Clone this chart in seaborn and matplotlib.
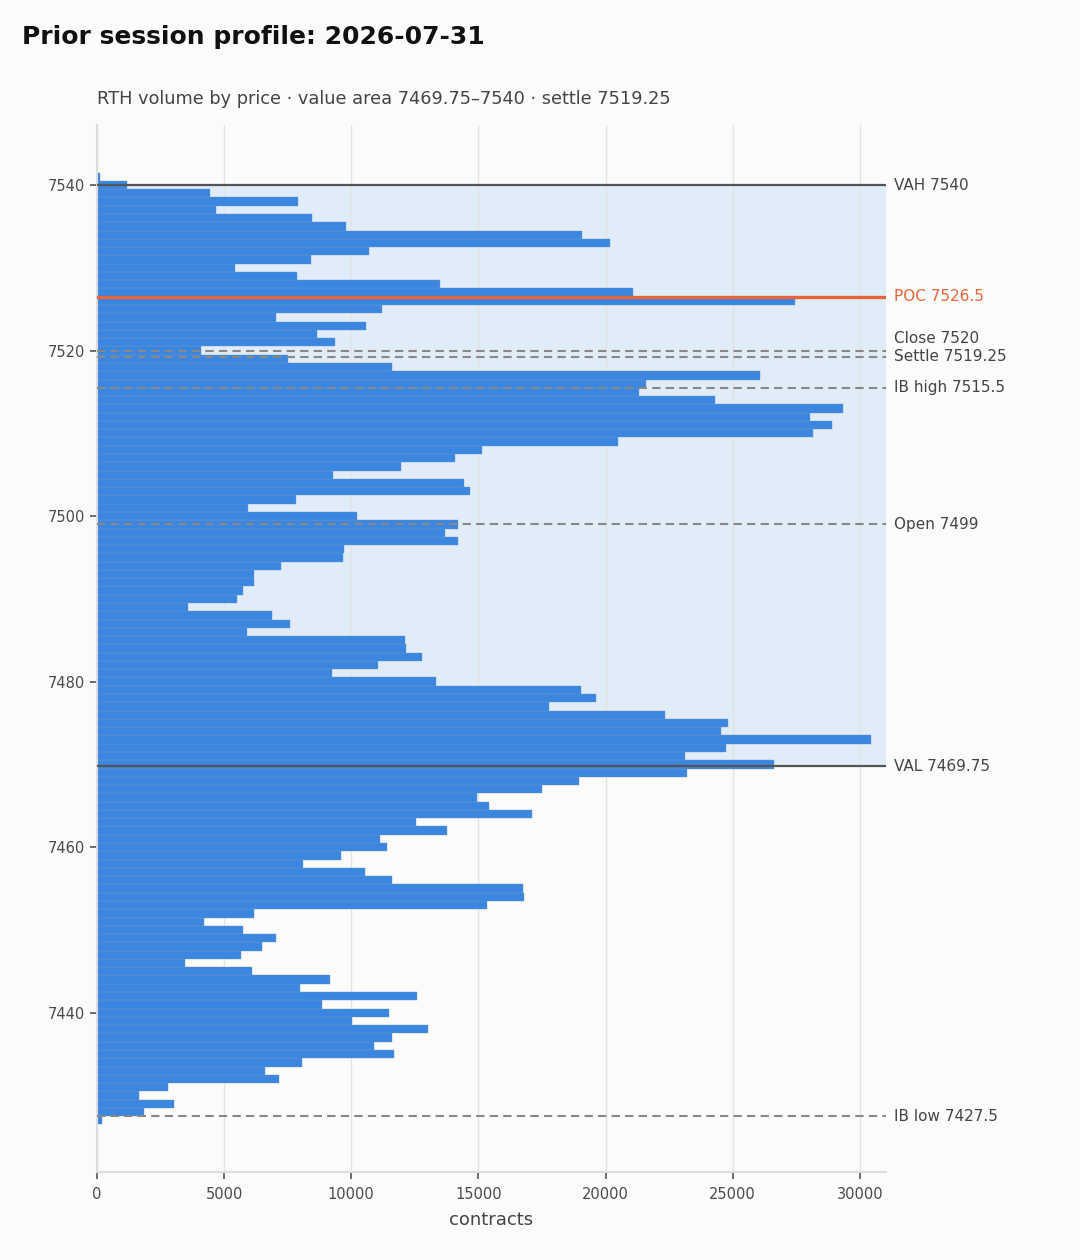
import matplotlib
matplotlib.use("Agg")
import matplotlib.pyplot as plt
import pandas as pd
import seaborn as sns

# price levels (1-point bins), top to bottom
prices = list(range(7541, 7426, -1))

# contracts traded at each price, same order as prices
volume = [
    110, 1170, 4440, 7910, 4680, 8450, 9800, 19080, 20180, 10700,
    8410, 5420, 7870, 13490, 21080, 27430, 11200, 7050, 10580, 8650,
    9360, 4080, 7510, 11610, 26080, 21570, 21330, 24320, 29320, 28050,
    28920, 28170, 20500, 15140, 14080, 11970, 9280, 14440, 14680, 7830,
    5940, 10220, 14200, 13690, 14200, 9720, 9680, 7230, 6160, 6160,
    5740, 5500, 3570, 6890, 7590, 5900, 12110, 12150, 12790, 11040,
    9240, 13330, 19040, 19640, 17790, 22350, 24820, 24520, 30420, 24720,
    23130, 26610, 23210, 18960, 17510, 14940, 15420, 17110, 12550, 13770,
    11120, 11410, 9600, 8090, 10540, 11610, 16770, 16810, 15340, 6160,
    4200, 5740, 7030, 6490, 5660, 3450, 6080, 9160, 7990, 12590,
    8860, 11490, 10020, 13010, 11610, 10900, 11690, 8050, 6610, 7150,
    2790, 1650, 3030, 1850, 180,
]

session_date = "2026-07-31"
vah = 7540
val = 7469.75
poc = 7526.5
close_px = 7520
settle = 7519.25
ib_high = 7515.5
open_px = 7499
ib_low = 7427.5

bg = "#fbfbf9"
bar_blue = "#3a86e0"
poc_orange = "#e8643a"
text_grey = "#444444"

sns.set_theme(style="whitegrid")
plt.rcParams["font.family"] = ["DejaVu Sans"]
plt.rcParams.update({
    "figure.facecolor": bg,
    "axes.facecolor": bg,
    "axes.edgecolor": "#dddddd",
    "grid.color": "#e3e3e3",
    "xtick.color": "#555555",
    "ytick.color": "#555555",
    "xtick.labelcolor": "#4a4a4a",
    "ytick.labelcolor": "#4a4a4a",
})

df = pd.DataFrame({"price": prices, "contracts": volume})

fig = plt.figure(figsize=(10.8, 12.6), dpi=100)
ax = fig.add_axes([0.0898, 0.0698, 0.7306, 0.831])

# value area shading
ax.axhspan(val, vah, color="#d9e8fa", alpha=0.75, zorder=0, lw=0)

sns.barplot(
    data=df, x="contracts", y="price", orient="h", native_scale=True,
    width=1, color=bar_blue, saturation=1, errorbar=None,
    edgecolor="#6f97c8", linewidth=0.3, ax=ax, zorder=2,
)

ax.set_axisbelow(True)
ax.grid(axis="x", color="#e3e3e3", lw=1)
ax.grid(axis="y", visible=False)
for side in ["top", "right"]:
    ax.spines[side].set_visible(False)
ax.spines["left"].set_color("#dddddd")
ax.spines["bottom"].set_color("#dddddd")
ax.spines["left"].set_linewidth(1.5)
ax.spines["bottom"].set_linewidth(1.5)

ax.set_ylim(7420.75, 7547.25)
ax.set_xlim(0, max(volume) * 1.02)
ax.set_yticks(range(7440, 7541, 20))
ax.set_xticks(range(0, 30001, 5000))
ax.tick_params(axis="both", length=5, width=1.2, labelsize=10.5, left=True, bottom=True)
ax.tick_params(axis="x", pad=6)
ax.set_xlabel("contracts", fontsize=13, color=text_grey, labelpad=6)
ax.set_ylabel("")

# reference levels
ax.axhline(vah, color="#555555", lw=1.6, zorder=4)
ax.axhline(val, color="#555555", lw=1.6, zorder=4)
ax.axhline(poc, color=poc_orange, lw=2.4, zorder=5)
for lvl in [close_px, settle, ib_high, open_px, ib_low]:
    ax.axhline(lvl, color="#888888", lw=1.5, ls=(0, (4, 2.5)), zorder=4)

labels = [
    (vah, f"VAH {vah}", text_grey, 0),
    (poc, f"POC {poc}", poc_orange, 0),
    (close_px, f"Close {close_px}", text_grey, 8.5),
    (settle, f"Settle {settle}", text_grey, 0),
    (ib_high, f"IB high {ib_high}", text_grey, 0),
    (open_px, f"Open {open_px}", text_grey, 0),
    (val, f"VAL {val}", text_grey, 0),
    (ib_low, f"IB low {ib_low}", text_grey, 0),
]
for lvl, txt, col, dy in labels:
    ax.annotate(
        txt, xy=(1, lvl), xycoords=("axes fraction", "data"),
        xytext=(6, dy), textcoords="offset points",
        ha="left", va="center", fontsize=11, color=col, annotation_clip=False,
    )

ax.set_title(
    f"RTH volume by price · value area {val}–{vah} · settle {settle}",
    loc="left", fontsize=12.8, color=text_grey, pad=15,
)
fig.text(0.02, 0.971, f"Prior session profile: {session_date}",
         fontsize=18, fontweight="bold", color="#111111", ha="left", va="center")

fig.savefig("out.png", dpi=100, facecolor=bg)
